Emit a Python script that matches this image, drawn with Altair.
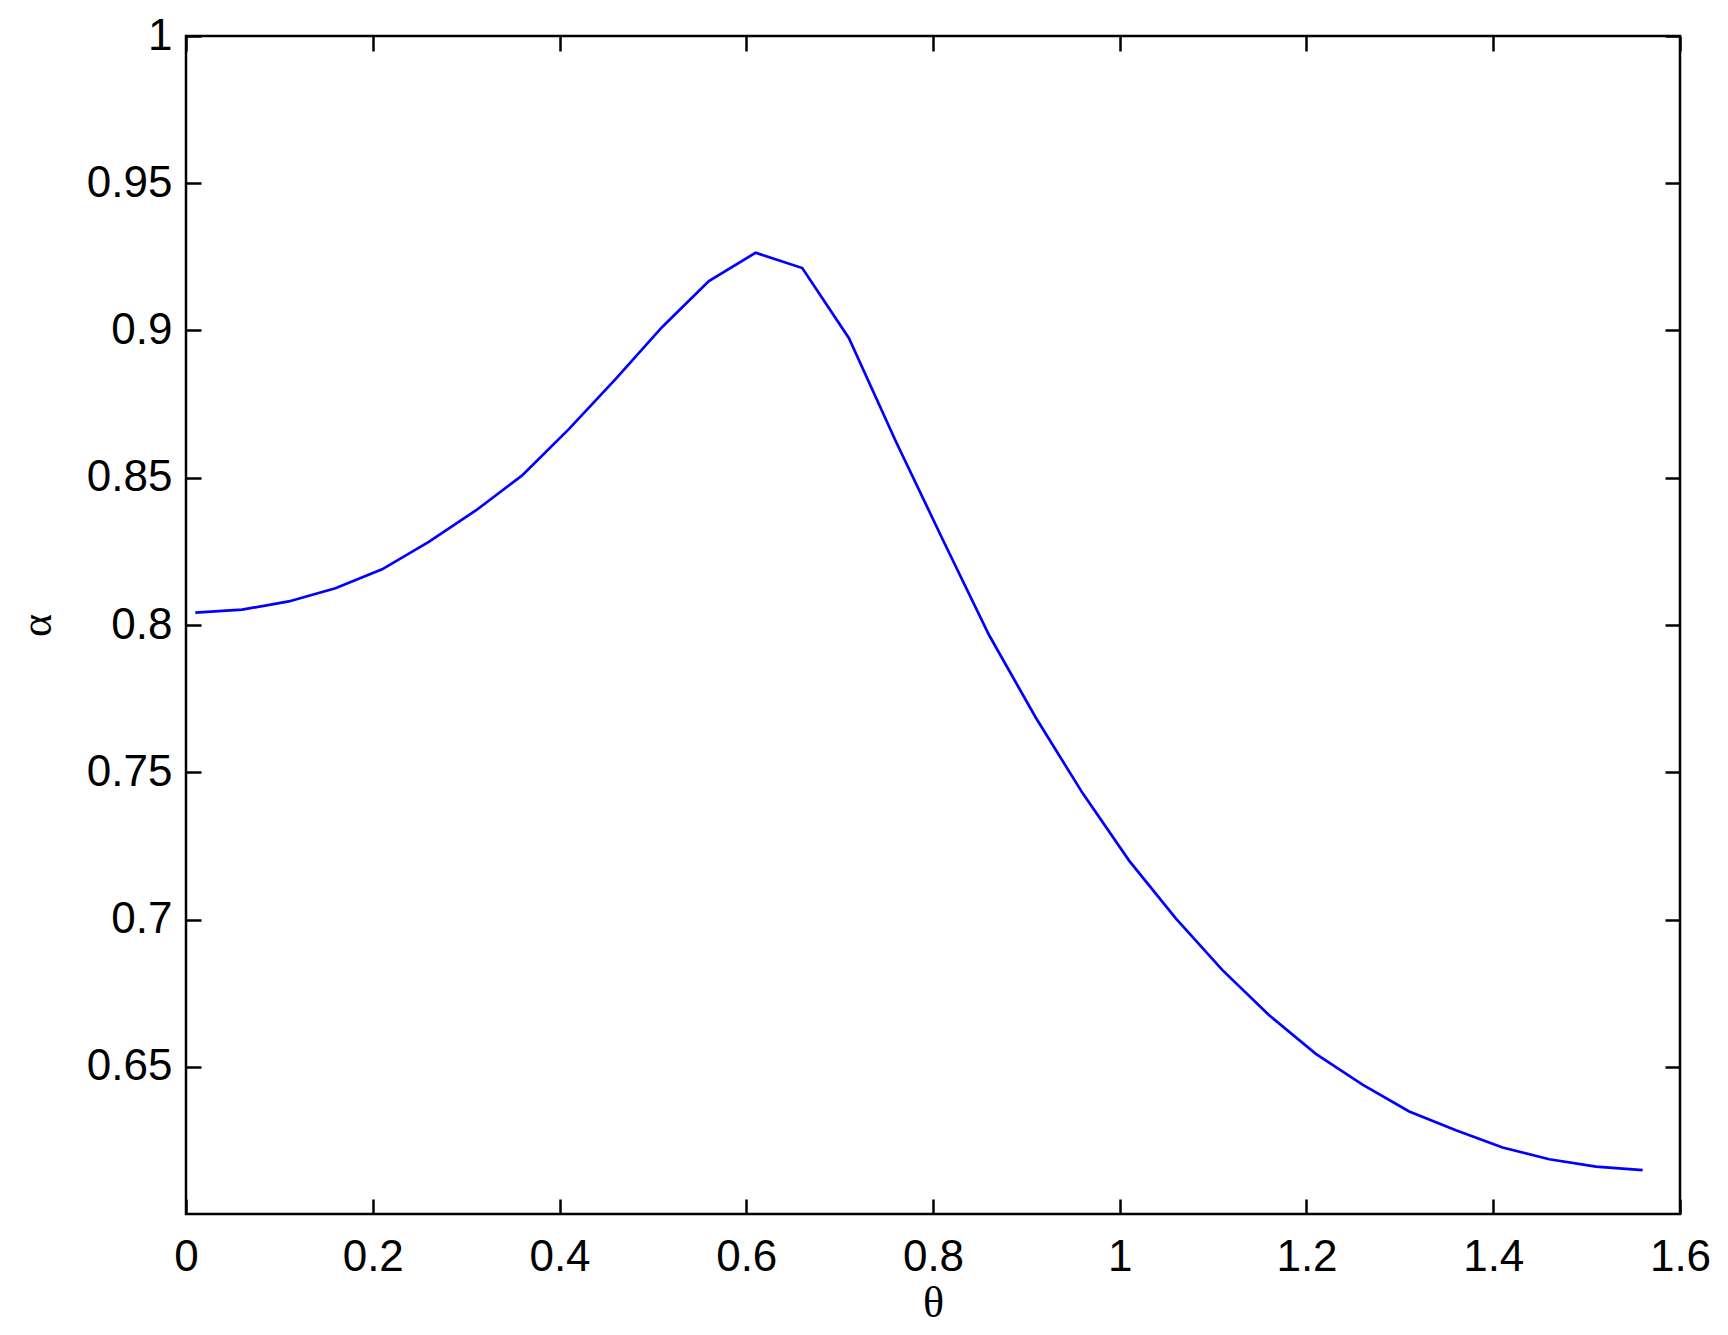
import altair as alt
import pandas as pd

# angle theta (rad) and alpha
theta = [0.01, 0.06, 0.11, 0.16, 0.21, 0.26, 0.31, 0.36, 0.41, 0.46,
         0.51, 0.56, 0.61, 0.66, 0.71, 0.76, 0.81, 0.86, 0.91, 0.96,
         1.01, 1.06, 1.11, 1.16, 1.21, 1.26, 1.31, 1.36, 1.41, 1.46,
         1.51, 1.56]
alpha = [0.8042, 0.8052, 0.8080, 0.8125, 0.8189, 0.8282, 0.8388, 0.8508, 0.8665, 0.8835,
         0.9012, 0.9168, 0.9264, 0.9212, 0.8974, 0.8625, 0.8293, 0.7966, 0.7686, 0.7430,
         0.7200, 0.7004, 0.6828, 0.6675, 0.6544, 0.6439, 0.6348, 0.6284, 0.6226, 0.6186,
         0.6161, 0.6149]

x_ticks = [0, 0.2, 0.4, 0.6, 0.8, 1.0, 1.2, 1.4, 1.6]
y_ticks = [0.65, 0.7, 0.75, 0.8, 0.85, 0.9, 0.95, 1.0]

W, H = 1494, 1178
TICK = 15

df = pd.DataFrame({"theta": theta, "alpha": alpha})

chart = alt.Chart(df).mark_line(color="#0000FF", strokeWidth=2.7).encode(
    x=alt.X("theta:Q",
            scale=alt.Scale(domain=[0, 1.6], nice=False, zero=False),
            axis=alt.Axis(values=x_ticks, format="~g", title="θ",
                          labelBaseline="alphabetic", labelPadding=56,
                          gridDash=[TICK, H - 2 * TICK, TICK],
                          titleX=W / 2, titleY=102, titleAlign="center",
                          titleBaseline="alphabetic")),
    y=alt.Y("alpha:Q",
            scale=alt.Scale(domain=[0.6, 1.0], nice=False, zero=False),
            axis=alt.Axis(values=y_ticks, format="~g", title="α",
                          labelAlign="right", labelBaseline="middle", labelPadding=14,
                          gridDash=[TICK, W - 2 * TICK, TICK],
                          titleX=-136, titleY=H / 2, titleAlign="center",
                          titleBaseline="alphabetic", titleAngle=270)),
).properties(
    width=W, height=H,
    background="white",
    autosize=alt.AutoSizeParams(type="none"),
    padding={"left": 178, "top": 28, "right": 40, "bottom": 113},
).configure_view(
    stroke="black", strokeWidth=2.5
).configure_axis(
    domain=False, ticks=False, tickSize=0,
    grid=True, gridColor="black", gridWidth=2.5, gridOpacity=1,
    labelFont="Liberation Sans", labelFontSize=44, labelColor="black",
    labelFlush=False, labelOverlap=False, labelBound=False,
    titleFont="Liberation Serif", titleFontSize=44, titleFontWeight="normal",
    titleColor="black"
)

chart.save("out.html", embed_options={"renderer": "svg", "actions": False})
